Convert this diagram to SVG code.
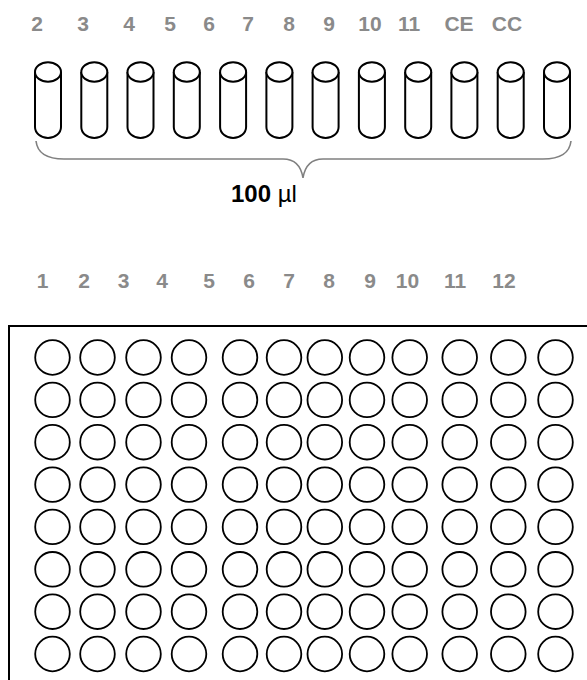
<svg xmlns="http://www.w3.org/2000/svg" width="587" height="680" viewBox="0 0 587 680">
<style>
.lbl{font-family:"Liberation Sans",Arial,sans-serif;font-weight:bold;font-size:21px;fill:#8a8a8a;text-anchor:middle}
.tube{fill:#fff;stroke:#000;stroke-width:2}
.well{fill:#fff;stroke:#000;stroke-width:1.8}
.brace{fill:none;stroke:#808080;stroke-width:1.6}
</style>
<defs>
<g id="tube">
<path class="tube" d="M0,72 V127 A13,11 0 0 0 26,127 V72"/>
<ellipse class="tube" cx="13" cy="72" rx="13" ry="9.7"/>
</g>
</defs>
<rect width="587" height="680" fill="#fff"/>
<g id="top-labels">
<text class="lbl" x="37" y="31">2</text>
<text class="lbl" x="83" y="31">3</text>
<text class="lbl" x="129" y="31">4</text>
<text class="lbl" x="170" y="31">5</text>
<text class="lbl" x="209" y="31">6</text>
<text class="lbl" x="248" y="31">7</text>
<text class="lbl" x="289" y="31">8</text>
<text class="lbl" x="329" y="31">9</text>
<text class="lbl" x="370" y="31">10</text>
<text class="lbl" x="409" y="31">11</text>
<text class="lbl" x="459" y="31">CE</text>
<text class="lbl" x="507" y="31">CC</text>
</g>
<g id="tubes">
<use href="#tube" x="35"/>
<use href="#tube" x="81.3"/>
<use href="#tube" x="127.5"/>
<use href="#tube" x="173.8"/>
<use href="#tube" x="220.1"/>
<use href="#tube" x="266.4"/>
<use href="#tube" x="312.6"/>
<use href="#tube" x="358.9"/>
<use href="#tube" x="405.2"/>
<use href="#tube" x="451.4"/>
<use href="#tube" x="497.7"/>
<use href="#tube" x="544"/>
</g>
<g id="connectors">
<path class="brace" d="M36,141 Q38,159 64,159 H283 Q300,159 303,178 Q306,159 323,159 H543 Q569,159 571,141"/>
</g>
<g id="volume">
<text x="231" y="202" font-family="Liberation Sans,Arial,sans-serif" font-size="24" fill="#000"><tspan font-weight="bold">100</tspan> µl</text>
</g>
<g id="bottom-labels">
<text class="lbl" x="42.5" y="288">1</text>
<text class="lbl" x="84" y="288">2</text>
<text class="lbl" x="123.5" y="288">3</text>
<text class="lbl" x="162" y="288">4</text>
<text class="lbl" x="209" y="288">5</text>
<text class="lbl" x="249" y="288">6</text>
<text class="lbl" x="289" y="288">7</text>
<text class="lbl" x="329" y="288">8</text>
<text class="lbl" x="370" y="288">9</text>
<text class="lbl" x="407.5" y="288">10</text>
<text class="lbl" x="455" y="288">11</text>
<text class="lbl" x="504" y="288">12</text>
</g>
<g id="plate">
<rect x="9" y="326" width="600" height="400" fill="none" stroke="#000" stroke-width="2"/>
</g>
<defs>
<g id="col">
<circle class="well" cx="0" cy="357.5" r="17.3"/>
<circle class="well" cx="0" cy="399.9" r="17.3"/>
<circle class="well" cx="0" cy="442.2" r="17.3"/>
<circle class="well" cx="0" cy="484.6" r="17.3"/>
<circle class="well" cx="0" cy="526.9" r="17.3"/>
<circle class="well" cx="0" cy="569.3" r="17.3"/>
<circle class="well" cx="0" cy="611.7" r="17.3"/>
<circle class="well" cx="0" cy="654" r="17.3"/>
</g>
</defs>
<g id="wells">
<use href="#col" x="52.5"/>
<use href="#col" x="97.5"/>
<use href="#col" x="143.5"/>
<use href="#col" x="189"/>
<use href="#col" x="240"/>
<use href="#col" x="284"/>
<use href="#col" x="324.8"/>
<use href="#col" x="367"/>
<use href="#col" x="409.7"/>
<use href="#col" x="459.7"/>
<use href="#col" x="508.3"/>
<use href="#col" x="555.5"/>
</g>
</svg>
